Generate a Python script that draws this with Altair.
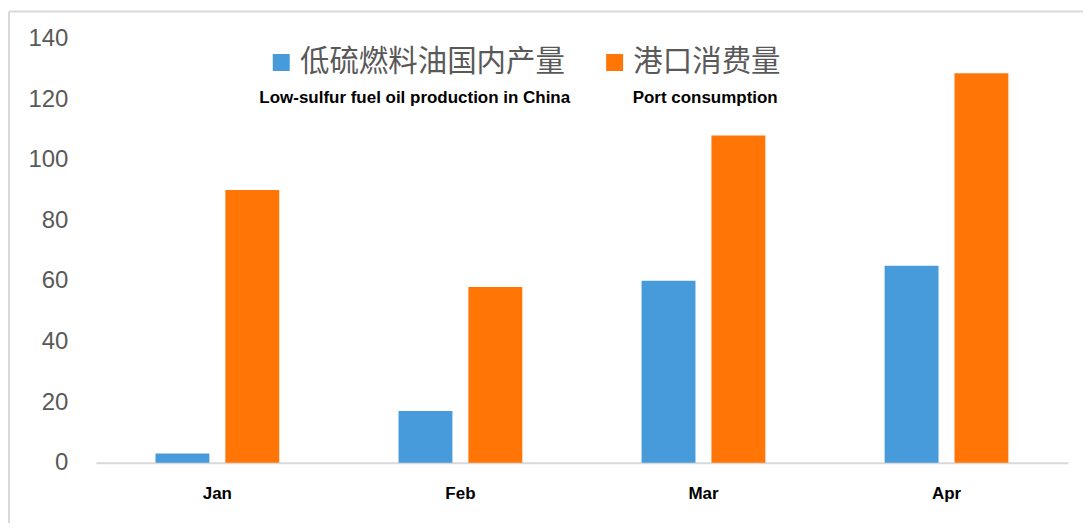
import altair as alt
import pandas as pd

months = ["Jan", "Feb", "Mar", "Apr"]
series_cn = ["低硫燃料油国内产量", "港口消费量"]
series_en = ["Low-sulfur fuel oil production in China", "Port consumption"]
production = [3, 17, 60, 65]
consumption = [90, 58, 108, 128.5]
y_ticks = [0, 20, 40, 60, 80, 100, 120, 140]
colors = ["#479BDB", "#FF7606"]

rows = []
for i, m in enumerate(months):
    rows.append({"month": m, "series": series_cn[0], "value": production[i]})
    rows.append({"month": m, "series": series_cn[1], "value": consumption[i]})
df = pd.DataFrame(rows)

W, H = 974, 425

bars = alt.Chart(df).mark_bar().encode(
    x=alt.X("month:N", sort=months, title=None,
            scale=alt.Scale(paddingInner=0, paddingOuter=0),
            axis=alt.Axis(labelAngle=0, labelFont="Liberation Sans", labelFontWeight="bold",
                          labelFontSize=17, labelColor="#000000", labelPadding=23,
                          ticks=False, tickSize=0, domainColor="#d9d9d9", domainWidth=2,
                          grid=False)),
    xOffset=alt.XOffset("series:N", sort=series_cn,
                        scale=alt.Scale(paddingInner=0.2286, paddingOuter=0.8536)),
    y=alt.Y("value:Q", title=None,
            scale=alt.Scale(domain=[0, 140], nice=False),
            axis=alt.Axis(values=y_ticks, labelFont="Liberation Sans", labelFontSize=24,
                          labelColor="#595959", labelPadding=28, ticks=False, tickSize=0,
                          domain=False, grid=False)),
    color=alt.Color("series:N", sort=series_cn,
                    scale=alt.Scale(domain=series_cn, range=colors),
                    legend=alt.Legend(title=None, orient="none", legendX=171, legendY=9,
                                      direction="horizontal", symbolType="square",
                                      symbolSize=289, symbolStrokeWidth=0,
                                      labelFont="Noto Sans CJK SC", labelFontSize=29.5,
                                      labelColor="#595959", labelLimit=500, labelOffset=4,
                                      columnPadding=34, padding=0)),
)

cap1 = alt.Chart(pd.DataFrame({"t": [series_en[0]]})).mark_text(
    font="Liberation Sans", fontWeight="bold", fontSize=17, color="#000000",
    align="center", baseline="middle"
).encode(text="t:N", x=alt.value(319.5), y=alt.value(60))

cap2 = alt.Chart(pd.DataFrame({"t": [series_en[1]]})).mark_text(
    font="Liberation Sans", fontWeight="bold", fontSize=17, color="#000000",
    align="center", baseline="middle"
).encode(text="t:N", x=alt.value(610.5), y=alt.value(60))

frame_top = alt.Chart(pd.DataFrame({"a": [0]})).mark_rule(color="#d9d9d9", strokeWidth=2).encode(
    x=alt.value(-87), x2=alt.value(W + 40), y=alt.value(-27))
frame_left = alt.Chart(pd.DataFrame({"a": [0]})).mark_rule(color="#d9d9d9", strokeWidth=2).encode(
    x=alt.value(-87), y=alt.value(-27), y2=alt.value(H + 80))

chart = alt.layer(frame_top, frame_left, bars, cap1, cap2).properties(
    width=W, height=H,
    autosize=alt.AutoSizeParams(type="none"),
    padding={"left": 88, "top": 30, "right": 15, "bottom": 60},
    background="white",
).configure_view(stroke=None)

chart.save("out.html", embed_options={"renderer": "svg", "actions": False})
